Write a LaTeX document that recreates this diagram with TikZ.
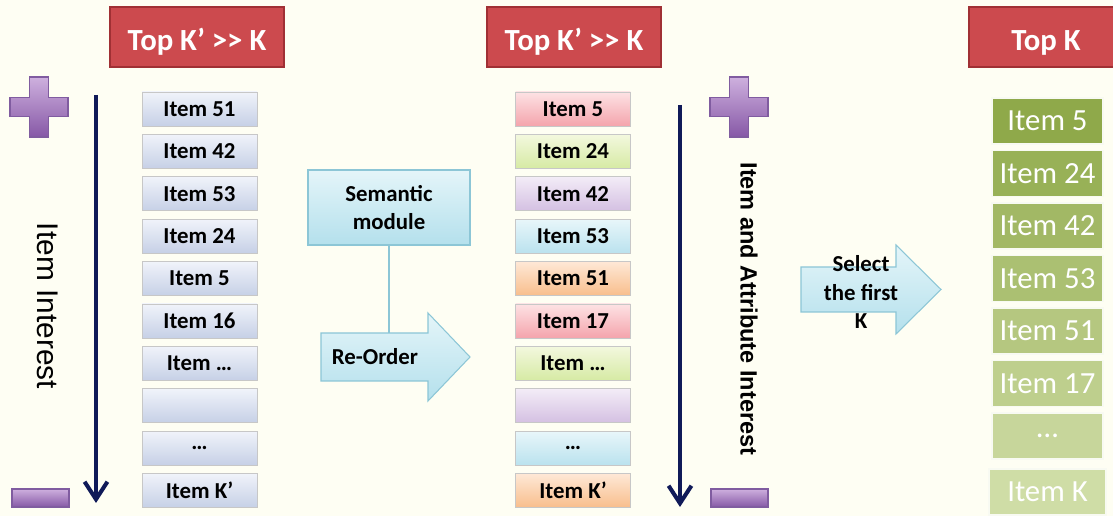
\documentclass[tikz,border=0pt]{standalone}
\usepackage{fontspec}
\setmainfont{Carlito}
\newfontfamily\arialfont{Liberation Sans}
\usepackage{tikz}
\usepackage{xcolor}
\usetikzlibrary{arrows.meta,positioning}

\definecolor{bgcream}{RGB}{254,254,243}
\definecolor{hdred}{RGB}{204,74,78}
\definecolor{hdborder}{RGB}{160,48,52}
\definecolor{navy}{RGB}{16,26,88}
\definecolor{plustop}{RGB}{206,176,222}
\definecolor{plusbot}{RGB}{134,88,166}
\definecolor{plusline}{RGB}{128,92,160}
\definecolor{bluetop}{RGB}{240,243,250}
\definecolor{bluebot}{RGB}{198,208,230}
\definecolor{pinktop}{RGB}{253,226,228}
\definecolor{pinkbot}{RGB}{244,164,172}
\definecolor{greentop}{RGB}{243,248,222}
\definecolor{greenbot}{RGB}{214,234,164}
\definecolor{purpletop}{RGB}{243,236,247}
\definecolor{purplebot}{RGB}{212,192,226}
\definecolor{cyantop}{RGB}{232,246,250}
\definecolor{cyanbot}{RGB}{186,226,238}
\definecolor{orangetop}{RGB}{254,232,214}
\definecolor{orangebot}{RGB}{248,190,140}
\definecolor{flowtop}{RGB}{228,245,249}
\definecolor{flowbot}{RGB}{180,224,236}
\definecolor{flowline}{RGB}{140,198,214}
\definecolor{oliveA}{RGB}{143,169,74}
\definecolor{oliveB}{RGB}{210,223,170}

\tikzset{
  header/.style={fill=hdred, draw=hdborder, line width=1pt, text=white,
    font=\bfseries\fontsize{17.5}{20}\selectfont, text height=15.5pt, text depth=0pt,
    minimum width=3.48cm, minimum height=1.2cm},
  item/.style={draw=black!22, line width=0.5pt, font=\bfseries\fontsize{13}{15}\selectfont,
    minimum width=2.3cm, minimum height=0.68cm, inner sep=0pt},
  blueitem/.style={item, top color=bluetop, bottom color=bluebot},
  pinkitem/.style={item, top color=pinktop, bottom color=pinkbot},
  greenitem/.style={item, top color=greentop, bottom color=greenbot},
  purpleitem/.style={item, top color=purpletop, bottom color=purplebot},
  cyanitem/.style={item, top color=cyantop, bottom color=cyanbot},
  orangeitem/.style={item, top color=orangetop, bottom color=orangebot},
  topk/.style={fill=oliveA!#1!oliveB, draw=white!85!oliveB, line width=0.6pt, text=white,
    font=\fontsize{17.5}{20}\selectfont, minimum width=2.22cm, minimum height=0.92cm, inner sep=0pt},
  signshape/.style={top color=plustop, bottom color=plusbot, draw=plusline, line width=0.6pt},
  interest/.style={navy, line width=2.3pt, -{Straight Barb[length=10pt,width=13pt]}},
  flowarrow/.style={top color=flowtop, bottom color=flowbot, draw=flowline, line width=0.6pt},
  flowtext/.style={font=\bfseries\fontsize{13}{16}\selectfont, align=center, inner sep=0pt},
  link/.style={flowline, line width=0.8pt}
}

\begin{document}
\begin{tikzpicture}[x=0.02cm,y=-0.02cm]
\useasboundingbox (0,0) rectangle (1113,516);
\fill[bgcream] (0,0) rectangle (1113,516);

\node[header] (h1) at (197,37) {Top K’ >{}> K};
\node[header] (h2) at (574,37) {Top K’ >{}> K};
\node[header, minimum width=3.08cm] (h3) at (1046,37) {Top K};

\shade[signshape] (29.5,77) -- (48.5,77) -- (48.5,97.5) -- (68,97.5) -- (68,116.5) -- (48.5,116.5) -- (48.5,137) -- (29.5,137) -- (29.5,116.5) -- (10,116.5) -- (10,97.5) -- (29.5,97.5) -- cycle;
\shade[signshape] (12,489) rectangle (69,507);
\shade[signshape] (729.5,77) -- (748.5,77) -- (748.5,97.5) -- (768,97.5) -- (768,116.5) -- (748.5,116.5) -- (748.5,137) -- (729.5,137) -- (729.5,116.5) -- (710,116.5) -- (710,97.5) -- (729.5,97.5) -- cycle;
\shade[signshape] (711,489) rectangle (768,507);

\coordinate (ltop) at (96,95);
\coordinate (lbot) at (96,503);
\draw[interest] (ltop) -- (lbot);
\coordinate (rtop) at (680,105);
\coordinate (rbot) at (680,507);
\draw[interest] (rtop) -- (rbot);

\node[rotate=-90, font=\arialfont\fontsize{17}{20}\selectfont] (lint) at (48,306) {Item Interest};
\node[rotate=-90, font=\arialfont\bfseries\fontsize{13.4}{16}\selectfont] (rint) at (749,309) {Item and Attribute Interest};

\node[blueitem] (a1) at (199.5,109) {Item 51};
\node[blueitem] (a2) at (199.5,151.4) {Item 42};
\node[blueitem] (a3) at (199.5,193.8) {Item 53};
\node[blueitem] (a4) at (199.5,236.2) {Item 24};
\node[blueitem] (a5) at (199.5,278.6) {Item 5};
\node[blueitem] (a6) at (199.5,321) {Item 16};
\node[blueitem] (a7) at (199.5,363.4) {Item …};
\node[blueitem] (a8) at (199.5,405.8) {};
\node[blueitem] (a9) at (199.5,448.2) {…};
\node[blueitem] (a10) at (199.5,490.6) {Item K’};

\node[pinkitem] (b1) at (573,109) {Item 5};
\node[greenitem] (b2) at (573,151.4) {Item 24};
\node[purpleitem] (b3) at (573,193.8) {Item 42};
\node[cyanitem] (b4) at (573,236.2) {Item 53};
\node[orangeitem] (b5) at (573,278.6) {Item 51};
\node[pinkitem] (b6) at (573,321) {Item 17};
\node[greenitem] (b7) at (573,363.4) {Item …};
\node[purpleitem] (b8) at (573,405.8) {};
\node[cyanitem] (b9) at (573,448.2) {…};
\node[orangeitem] (b10) at (573,490.6) {Item K’};

\node[flowtext, draw=flowline, line width=0.6pt, top color=flowtop, bottom color=flowbot,
  minimum width=3.24cm, minimum height=1.5cm] (sem) at (389,207.5) {Semantic\\module};
\shade[flowarrow] (321,333) -- (428,333) -- (428,313) -- (470,357) -- (428,401) -- (428,381) -- (321,381) -- cycle;
\node[flowtext] (reorder) at (375,357) {Re-Order};
\coordinate (rotop) at (389,333);
\draw[link] (sem) -- (rotop);

\shade[flowarrow] (801,267) -- (896,267) -- (896,245) -- (941,289.5) -- (896,334) -- (896,312) -- (801,312) -- cycle;
\node[flowtext] (select) at (861,292) {Select\\the first\\K};

\node[topk=100] (c1) at (1047.5,121) {Item 5};
\node[topk=86] (c2) at (1047.5,173.5) {Item 24};
\node[topk=72] (c3) at (1047.5,226) {Item 42};
\node[topk=58] (c4) at (1047.5,278.5) {Item 53};
\node[topk=44] (c5) at (1047.5,331) {Item 51};
\node[topk=30] (c6) at (1047.5,383.5) {Item 17};
\node[topk=16] (c7) at (1047.5,436) {…};
\node[topk=4, minimum width=2.34cm] (c8) at (1047.5,492) {Item K};
\end{tikzpicture}
\end{document}
